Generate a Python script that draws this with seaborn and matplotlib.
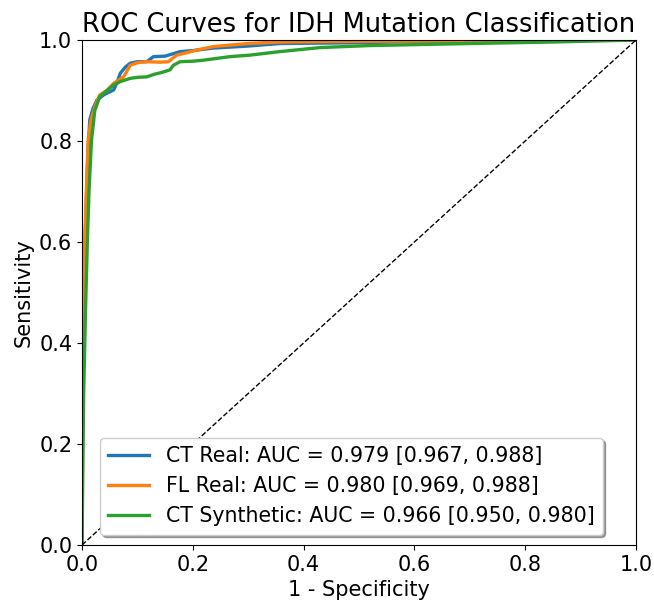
import numpy as np
import pandas as pd
import matplotlib
matplotlib.use("Agg")
import matplotlib.pyplot as plt
import seaborn as sns

# ROC points
ct_real_fpr = [0, 0.0, 0.003, 0.006, 0.010, 0.014, 0.020, 0.027, 0.040, 0.057, 0.063, 0.069,
               0.078, 0.087, 0.100, 0.117, 0.129, 0.150, 0.177, 0.20, 0.237, 0.30, 0.357,
               0.45, 0.52, 0.60, 0.75, 0.90, 1.0]
ct_real_tpr = [0, 0.25, 0.45, 0.62, 0.76, 0.842, 0.865, 0.881, 0.892, 0.901, 0.915, 0.934,
               0.946, 0.954, 0.957, 0.957, 0.967, 0.968, 0.977, 0.979, 0.984, 0.988, 0.993,
               0.994, 0.995, 0.997, 0.998, 0.999, 1.0]

fl_real_fpr = [0, 0.0, 0.002, 0.005, 0.008, 0.011, 0.016, 0.024, 0.032, 0.045, 0.057, 0.075,
               0.082, 0.087, 0.100, 0.117, 0.140, 0.156, 0.165, 0.171, 0.19, 0.207, 0.237,
               0.30, 0.357, 0.45, 0.6, 0.8, 1.0]
fl_real_tpr = [0, 0.30, 0.40, 0.60, 0.70, 0.80, 0.84, 0.87, 0.891, 0.90, 0.914, 0.927,
               0.94, 0.950, 0.955, 0.957, 0.956, 0.957, 0.965, 0.970, 0.975, 0.980, 0.987,
               0.993, 0.996, 0.997, 0.998, 0.999, 1.0]

ct_syn_fpr = [0, 0.001, 0.003, 0.006, 0.0096, 0.0126, 0.017, 0.023, 0.032, 0.045, 0.057, 0.070,
              0.087, 0.100, 0.117, 0.130, 0.145, 0.159, 0.165, 0.177, 0.20, 0.219, 0.267,
              0.303, 0.357, 0.43, 0.52, 0.70, 0.85, 1.0]
ct_syn_tpr = [0, 0.10, 0.30, 0.45, 0.60, 0.70, 0.80, 0.86, 0.888, 0.90, 0.911, 0.918,
              0.924, 0.926, 0.927, 0.932, 0.936, 0.941, 0.950, 0.957, 0.958, 0.960, 0.967,
              0.970, 0.977, 0.985, 0.989, 0.993, 0.996, 1.0]

labels = ["CT Real: AUC = 0.979 [0.967, 0.988]",
          "FL Real: AUC = 0.980 [0.969, 0.988]",
          "CT Synthetic: AUC = 0.966 [0.950, 0.980]"]
colors = ["#1f77b4", "#ff7f0e", "#2ca02c"]

curves = [(ct_real_fpr, ct_real_tpr), (fl_real_fpr, fl_real_tpr), (ct_syn_fpr, ct_syn_tpr)]

fig = plt.figure(figsize=(6.54, 6.05), dpi=100)
ax = fig.add_axes([0.1254, 0.0992, 0.8471, 0.8347])

for (fpr, tpr), lab, c in zip(curves, labels, colors):
    df = pd.DataFrame({"fpr": fpr, "tpr": tpr})
    sns.lineplot(data=df, x="fpr", y="tpr", sort=False, estimator=None,
                 color=c, lw=2.4, label=lab, ax=ax)

ax.plot([0, 1], [0, 1], "k--", lw=1)

ax.set_xlim(0, 1)
ax.set_ylim(0, 1)
ax.set_xlabel("1 - Specificity", fontsize=15)
ax.set_ylabel("Sensitivity", fontsize=15)
ax.set_title("ROC Curves for IDH Mutation Classification", fontsize=18.5)
ax.tick_params(labelsize=15)
ax.legend(loc="lower right", bbox_to_anchor=(0.9585, 0.0), fontsize=14.8, shadow=True)

fig.savefig("out.png", dpi=100)
